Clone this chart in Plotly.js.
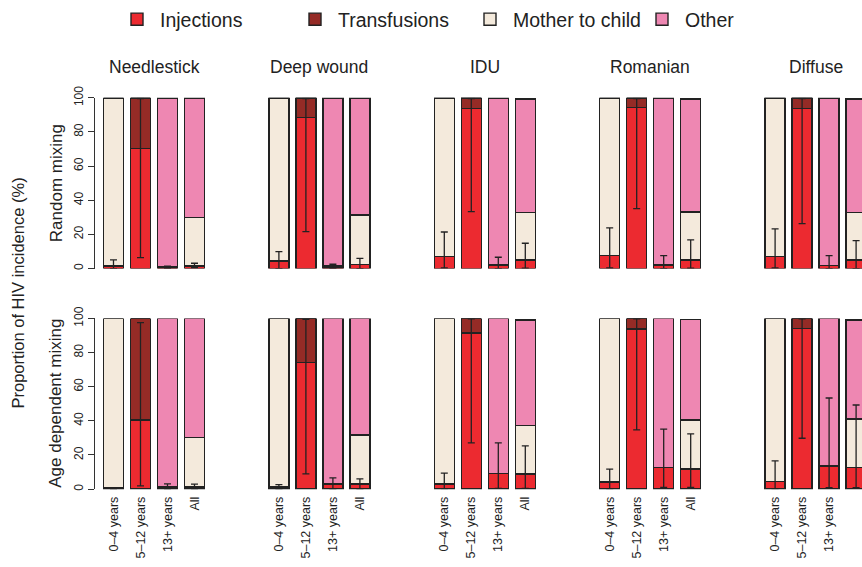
<!DOCTYPE html>
<html>
<head>
<meta charset="utf-8">
<script src="https://cdn.plot.ly/plotly-3.0.1.min.js"></script>
<style>html,body{margin:0;padding:0;background:#fff;}#chart{width:862px;height:567px;}</style>
</head>
<body>
<div id="chart"></div>
<script>
// ---- Data ----
const routes = ["Needlestick", "Deep wound", "IDU", "Romanian", "Diffuse"];
const ageGroups = ["0–4 years", "5–12 years", "13+ years", "All"];
const mixings = ["Random mixing", "Age dependent mixing"];
const sources = ["Injections", "Transfusions", "Mother to child", "Other"];

// Random mixing (rows: routes; cols: age groups), %
const injectionsRandom = [
  [1.5, 70.4, 0.5, 1.4],
  [4.5, 88.5, 0.5, 2.3],
  [7.0, 93.8, 2.1, 4.9],
  [7.8, 94.3, 2.1, 5.1],
  [7.0, 93.6, 1.9, 4.9]
];
const transfusionsRandom = [
  [0.3, 29.6, 0.5, 0.3],
  [0.0, 11.5, 1.0, 0.0],
  [0.0, 6.2, 0.0, 0.0],
  [0.0, 5.7, 0.0, 0.0],
  [0.0, 6.4, 0.0, 0.0]
];
const motherRandom = [
  [98.2, 0, 0, 28.1],
  [95.5, 0, 0, 29.1],
  [93.0, 0, 0, 27.8],
  [92.2, 0, 0, 28.0],
  [93.0, 0, 0, 27.8]
];
const otherRandom = [
  [0, 0, 99.0, 70.2],
  [0, 0, 98.5, 68.6],
  [0, 0, 97.9, 66.7],
  [0, 0, 97.9, 66.3],
  [0, 0, 98.1, 66.7]
];
const injLowRandom = [
  [0.0, 6.4, 0.0, 0.5],
  [0.0, 21.6, 0.0, 0.0],
  [0.4, 33.3, 0.0, 0.2],
  [0.4, 35.1, 0.0, 0.2],
  [0.4, 26.3, 0.0, 0.0]
];
const injHighRandom = [
  [5.1, 99.6, 1.4, 3.1],
  [9.9, 99.6, 2.5, 6.0],
  [21.4, 99.6, 6.6, 14.8],
  [23.8, 99.6, 7.6, 16.8],
  [23.2, 99.6, 7.6, 16.4]
];

// Age dependent mixing
const injectionsAge = [
  [0.3, 40.4, 0.5, 1.0],
  [0.5, 74.1, 3.1, 2.9],
  [3.1, 91.4, 9.0, 8.8],
  [4.1, 93.8, 12.5, 11.7],
  [4.3, 94.2, 13.6, 12.7]
];
const transfusionsAge = [
  [0.5, 59.6, 0.7, 0.5],
  [0.7, 25.9, 0.0, 0.0],
  [0.0, 8.6, 0.0, 0.0],
  [0.0, 6.2, 0.0, 0.0],
  [0.0, 5.8, 0.0, 0.0]
];
const motherAge = [
  [99.2, 0, 0, 28.7],
  [98.8, 0, 0, 28.9],
  [96.9, 0, 0, 28.4],
  [95.9, 0, 0, 28.7],
  [95.7, 0, 0, 28.4]
];
const otherAge = [
  [0, 0, 98.8, 69.8],
  [0, 0, 96.9, 68.2],
  [0, 0, 91.0, 62.0],
  [0, 0, 87.5, 59.0],
  [0, 0, 86.4, 58.1]
];
const injLowAge = [
  [0.0, 1.9, 0.0, 0.0],
  [0.0, 9.0, 0.0, 0.0],
  [0.2, 27.1, 0.4, 0.4],
  [0.2, 34.7, 1.0, 1.0],
  [0.2, 29.8, 0.8, 0.8]
];
const injHighAge = [
  [0.8, 97.5, 3.1, 2.9],
  [2.7, 99.4, 6.6, 6.0],
  [9.4, 99.8, 27.1, 25.3],
  [11.7, 99.8, 35.1, 32.4],
  [16.6, 99.8, 53.4, 49.3]
];

const colors = ["#EC2A30", "#952B26", "#F4EADC", "#EE87B2"];

// ---- Build ----
const W = 862, H = 567;
const FONT = "Liberation Sans, Arial, Helvetica, sans-serif";
const TXT = "#222";
const unitPx = 27;
const rangeStart = -0.685;
const panelW = 113;
const firstCenters = [113.5, 278.9, 444.3, 609.7, 775.1];
const rowPix = [[97, 268], [318, 489]];
const legendX = [114, 292, 467, 639];
const legendIds = ["legend", "legend2", "legend3", "legend4"];

const rowsData = [
  [injectionsRandom, transfusionsRandom, motherRandom, otherRandom, injLowRandom, injHighRandom],
  [injectionsAge, transfusionsAge, motherAge, otherAge, injLowAge, injHighAge]
];

const traces = [];
const errTraces = [];
const layout = {
  width: W, height: H,
  margin: {l: 0, r: 0, t: 0, b: 0},
  paper_bgcolor: "#fff", plot_bgcolor: "rgba(0,0,0,0)",
  barmode: "stack",
  bargap: 0,
  font: {family: FONT, color: TXT, size: 12},
  showlegend: true,
  annotations: [],
  hovermode: false
};
legendIds.forEach((id, i) => {
  layout[id] = {
    orientation: "h", x: legendX[i] / W, xanchor: "left", y: 1 - 19 / H, yanchor: "middle",
    font: {family: FONT, size: 19.5, color: TXT}, itemwidth: 36,
    bgcolor: "rgba(0,0,0,0)", itemclick: false, itemdoubleclick: false
  };
});

const xs = [0, 1, 2, 3];
for (let r = 0; r < 2; r++) {
  const [inj, tra, mot, oth, lo, hi] = rowsData[r];
  for (let c = 0; c < 5; c++) {
    const k = r * 5 + c + 1;
    const xa = "x" + (k === 1 ? "" : k), ya = "y" + (k === 1 ? "" : k);
    const seriesVals = [inj[c], tra[c], mot[c], oth[c]];
    for (let s = 0; s < 4; s++) {
      traces.push({
        type: "bar", x: xs, y: seriesVals[s], name: sources[s],
        xaxis: xa, yaxis: ya, width: 0.74, cliponaxis: true,
        marker: {color: colors[s], line: {color: "#222", width: 1.4}},
        showlegend: (r === 0 && c === 0), legend: legendIds[s]
      });
    }
    // error bars for Injections, drawn on top of all stacked bars
    errTraces.push({
      type: "scatter", mode: "markers", x: xs, y: inj[c],
      xaxis: xa, yaxis: ya, showlegend: false, cliponaxis: false,
      marker: {size: 1, color: "rgba(0,0,0,0)"},
      error_y: {
        type: "data", symmetric: false,
        array: inj[c].map((v, i) => hi[c][i] - v),
        arrayminus: inj[c].map((v, i) => v - lo[c][i]),
        color: "#222", thickness: 1.3, width: 3.5
      }
    });
    const x0 = firstCenters[c] - 18.5;
    const x1 = Math.min(W, x0 + panelW);
    const rangeEnd = rangeStart + (x1 - x0) / unitPx;
    const [pt, pb] = rowPix[r];
    const xKey = "xaxis" + (k === 1 ? "" : k), yKey = "yaxis" + (k === 1 ? "" : k);
    layout[xKey] = {
      domain: [x0 / W, x1 / W], range: [rangeStart, rangeEnd], anchor: ya,
      showgrid: false, zeroline: false, showline: false, ticks: "",
      tickmode: "array", tickvals: xs, ticktext: ageGroups,
      showticklabels: r === 1, tickangle: -90,
      tickfont: {family: FONT, size: 12.5, color: TXT}, ticklabelstandoff: 4,
      fixedrange: true
    };
    layout[yKey] = {
      domain: [(H - pb) / H, (H - pt) / H], range: [0, 100], anchor: xa,
      showgrid: false, zeroline: false,
      visible: c === 0, showline: c === 0, linecolor: "#333", linewidth: 1,
      ticks: "outside", ticklen: 6, tickcolor: "#333", tickwidth: 1,
      tickvals: [0, 20, 40, 60, 80, 100], tickangle: -90,
      tickfont: {family: FONT, size: 12, color: TXT},
      fixedrange: true
    };
  }
}

// column titles
routes.forEach((name, c) => {
  layout.annotations.push({
    text: name, xref: "paper", yref: "paper",
    x: (firstCenters[c] + 1.5 * unitPx) / W, y: 1 - 66 / H,
    xanchor: "center", yanchor: "middle", showarrow: false,
    font: {family: FONT, size: 17.5, color: TXT}
  });
});
// row titles
mixings.forEach((name, r) => {
  layout.annotations.push({
    text: name, xref: "paper", yref: "paper",
    x: 56 / W, y: 1 - ((rowPix[r][0] + rowPix[r][1]) / 2) / H,
    xanchor: "center", yanchor: "middle", showarrow: false, textangle: -90,
    font: {family: FONT, size: 17, color: TXT}
  });
});
layout.annotations.push({
  text: "Proportion of HIV incidence (%)", xref: "paper", yref: "paper",
  x: 18 / W, y: 1 - 293 / H, xanchor: "center", yanchor: "middle",
  showarrow: false, textangle: -90,
  font: {family: FONT, size: 16.5, color: TXT}
});

Plotly.newPlot("chart", traces.concat(errTraces), layout, {staticPlot: true, displayModeBar: false});
</script>
</body>
</html>
